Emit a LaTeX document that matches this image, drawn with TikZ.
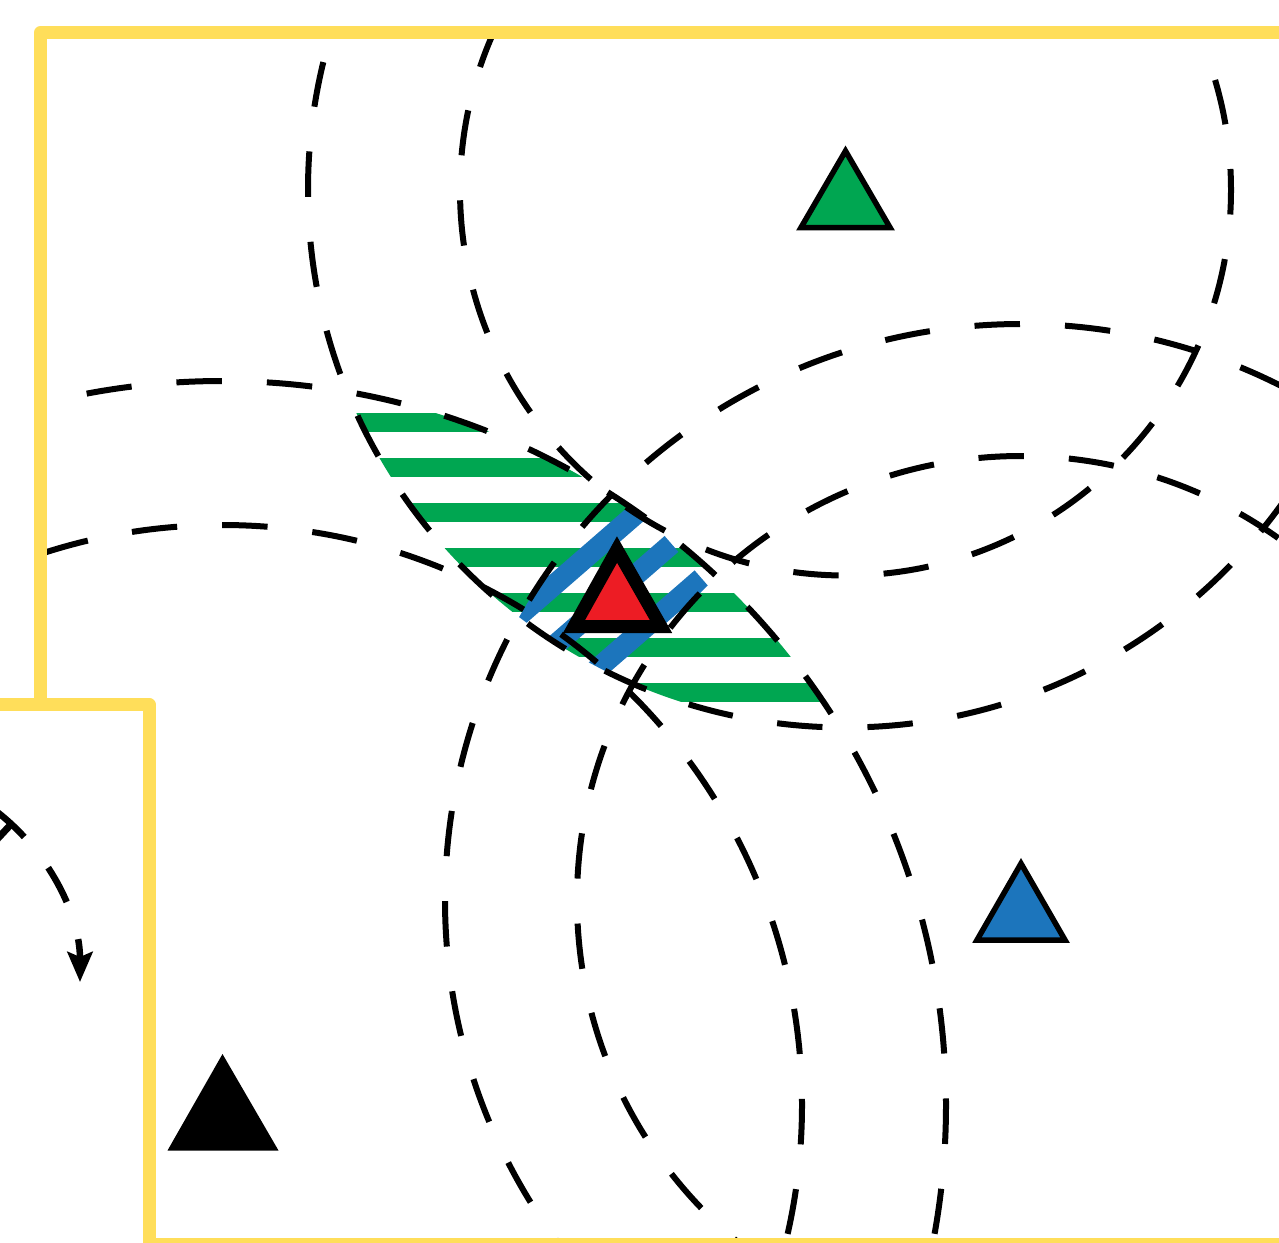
\documentclass[tikz,border=0pt]{standalone}
\usetikzlibrary{arrows.meta}
\definecolor{ybord}{HTML}{FFDE5A}
\definecolor{gfill}{HTML}{00A651}
\definecolor{bfill}{HTML}{1C75BC}
\definecolor{rfill}{HTML}{ED1C24}
\begin{document}
\begin{tikzpicture}[x=1pt,y=-1pt,
  ring/.style={draw=black, line width=6pt, dash pattern=on 45.5pt off 45pt},
  border/.style={draw=ybord, line width=13pt, line join=round},
  tower/.style={draw=black, line width=5.5pt, line join=miter},
  band/.style={draw=bfill, line width=21pt}]
\useasboundingbox (0,0) rectangle (1279,1242);
\clip (0,0) rectangle (1279,1242);
\fill[white] (0,0) rectangle (1279,1242);
\coordinate (G) at (845.5,190);
\coordinate (B) at (1021,900);
\coordinate (K) at (222,1105);
\begin{scope}
  \clip (40.5,32.5) rectangle (1300,1250);
  % green hatched lens
  \begin{scope}
    \clip (G) circle (537.5);
    \clip (K) circle (724);
    \foreach \k in {-1,...,8}
      \fill[gfill] (300,413.3+45*\k) rectangle (900,431.6+45*\k);
  \end{scope}
  % blue hatched part
  \begin{scope}
    \clip (G) circle (537.5);
    \clip (K) circle (724);
    \clip (B) ++(576,0) arc[start angle=0,end angle=360,radius=576]
          (B) ++(444,0) arc[start angle=0,end angle=-360,radius=444];
    \draw[band] (415,705.9) -- (641.4,509.1);
    \draw[band] (445.1,740.7) -- (671.5,543.9);
    \draw[band] (475.1,775.1) -- (701.5,578.3);
  \end{scope}
  % dashed range circles
  \draw[ring, dash phase=48.9] (G) ++(270:385.5) arc[start angle=270,end angle=630,radius=385.5];
  \draw[ring, dash phase=7.6] (G) ++(270:537.5) arc[start angle=270,end angle=630,radius=537.5];
  \draw[ring, dash phase=84.2] (K) ++(180:580) arc[start angle=180,end angle=540,radius=580];
  \draw[ring, dash phase=84.7] (K) ++(180:724) arc[start angle=180,end angle=540,radius=724];
  \draw[ring, dash phase=31.5] (B) ++(0:444) arc[start angle=0,end angle=360,radius=444];
  \draw[ring, dash phase=46.8] (B) ++(0:576) arc[start angle=0,end angle=360,radius=576];
\end{scope}
% towers
\draw[tower, fill=gfill] (845.5,151) -- (801,227.5) -- (890,227.5) -- cycle;
\draw[tower, fill=bfill] (1021,863.5) -- (977,940) -- (1065,940) -- cycle;
\fill[black] (222.5,1054) -- (167.5,1150.5) -- (278.5,1150.5) -- cycle;
\draw[draw=black, line width=13pt, line join=miter, fill=rfill] (617,549.5) -- (574,626.5) -- (661,626.5) -- cycle;
% borders
\draw[border] (40.5,1244.5) rectangle (1300,32.5);
\filldraw[border, fill=white] (-30,704.5) rectangle (149,1270);
% rotation arrow
\draw[line width=6.5pt, dash pattern=on 39pt off 39pt, -{Stealth[length=30pt,width=25pt,inset=5pt]}]
  (-136,982) ++(-52.5:216) arc[start angle=-52.5,end angle=0,radius=216];
\draw[line width=7pt] (11.3,824) -- (-6.4,843);
\end{tikzpicture}
\end{document}
